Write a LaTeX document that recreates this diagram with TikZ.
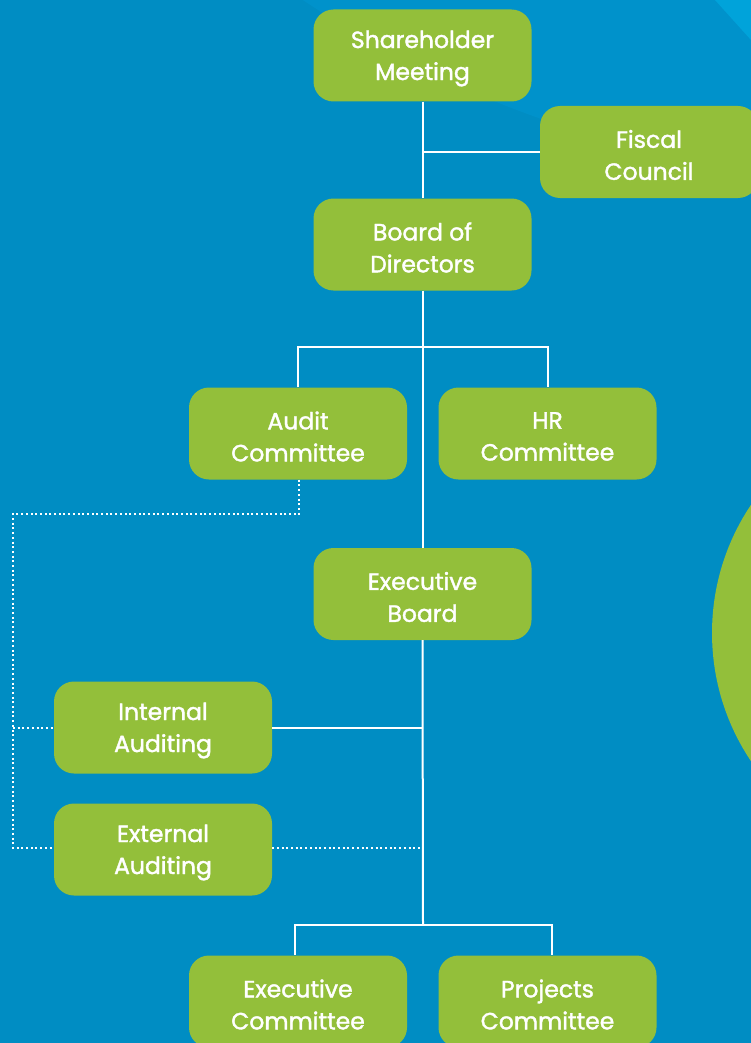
\documentclass[tikz,border=0pt]{standalone}
\usepackage{fontspec}
\setmainfont{Poppins}[FakeBold=1.6]
\begin{document}
\begin{tikzpicture}[x=1pt,y=-1pt,
  boxtext/.style={text=white, align=center, inner sep=0pt, yshift=-3pt,
    font=\fontsize{23.5}{32}\selectfont},
  box/.style={rectangle, rounded corners=20pt, fill=leaf, draw=none,
    minimum width=218pt, minimum height=92pt, inner sep=0pt,
    label={[boxtext]center:#1}},
  link/.style={draw=white, line width=2pt},
  dotlink/.style={draw=white, line width=2pt, dash pattern=on 2pt off 2.7pt}]
\definecolor{ocean}{HTML}{008DC3}
\definecolor{oceanlight}{HTML}{0092CB}
\definecolor{oceancorner}{HTML}{00A3DA}
\definecolor{leaf}{HTML}{93BF3A}

% background
\useasboundingbox (0,0) rectangle (751,1043);
\begin{scope}
\clip (0,0) rectangle (751,1043);
\fill[ocean] (0,0) rectangle (751,1043);
\fill[oceanlight] (900,-900) circle (1080);
\fill[oceancorner] (715,0) -- (751,0) -- (751,40) -- cycle;
\fill[leaf] (942,633) circle (230);

% nodes
\node[box={Shareholder\\Meeting}] (sm) at (422.5,55.5) {};
\node[box={Fiscal\\Council}] (fc) at (649,152) {};
\node[box={Board of\\Directors}] (bod) at (422.5,244.5) {};
\node[box={Audit\\Committee}] (ac) at (298,433.5) {};
\node[box={HR\\Committee}] (hr) at (547.5,433.5) {};
\node[box={Executive\\Board}] (eb) at (422.5,594) {};
\node[box={Internal\\Auditing}] (ia) at (163,727.5) {};
\node[box={External\\Auditing}] (ea) at (163,849.5) {};
\node[box={Executive\\Committee}] (ec) at (298,1001.5) {};
\node[box={Projects\\Committee}] (pc) at (547.5,1001.5) {};

% junctions
\coordinate (j1) at (423,347);
\coordinate (j2) at (423,925);
\coordinate (d1) at (299,514);
\coordinate (d2) at (13,514);
\coordinate (d3) at (13,848);

% solid connectors
\draw[link] (sm.south) -- (bod.north);
\draw[link] (fc.west) -- (fc.west -| sm.south);
\draw[link] (bod.south) -- (eb.north);
\draw[link] (ac.north) |- (j1) -| (hr.north);
\draw[link] (ia.east) -- (ia.east -| eb.south);
\draw[link] (eb.south) -- (j2);
\draw[link] (j2) -| ([xshift=-3pt]ec.north);
\draw[link] (j2) -| ([xshift=4.5pt]pc.north);

% dotted connectors
\draw[dotlink] (ac.south -| d1) -- (d1) -- (d2) -- (d3) -- (ea.west |- d3);
\draw[dotlink] (d2 |- ia.west) -- (ia.west);
\draw[dotlink] (ea.east |- d3) -- (d3 -| eb.south);
\end{scope}
\end{tikzpicture}
\end{document}
